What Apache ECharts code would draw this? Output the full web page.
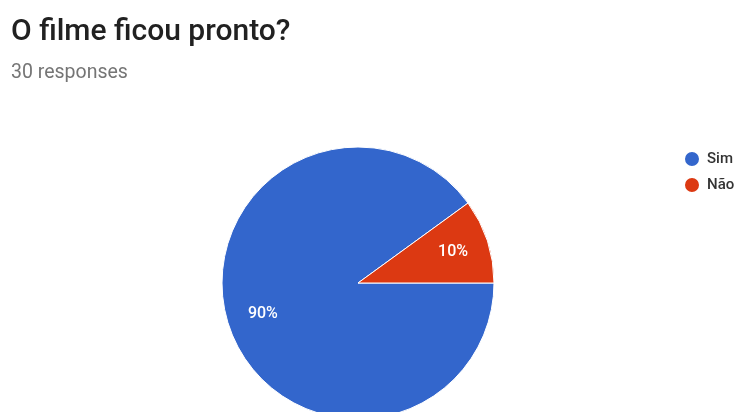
<!DOCTYPE html>
<html><head><meta charset="utf-8">
<script src="https://cdn.jsdelivr.net/npm/echarts@6/dist/echarts.min.js"></script>
<style>html,body{margin:0;padding:0;background:#fff}#c{width:736px;height:412px}</style>
</head><body><div id="c"></div>
<script>
const titleText = 'O filme ficou pronto?';
const subtitleText = '30 responses';
const categories = ['Sim', 'Não'];
const values = [27, 3];
const colors = ['#3366cc', '#dc3912'];

const data = categories.map((n, i) => ({ name: n, value: values[i], itemStyle: { color: colors[i] } }));
const chart = echarts.init(document.getElementById('c'));
chart.setOption({
  animation: false,
  title: {
    text: titleText, subtext: subtitleText, left: 6, top: 12, itemGap: 16,
    textStyle: { fontFamily: 'Roboto', fontSize: 30, fontWeight: 500, color: '#212121' },
    subtextStyle: { fontFamily: 'Roboto', fontSize: 19.5, color: '#757575' }
  },
  legend: {
    orient: 'vertical', left: 678, top: 145, icon: 'circle', itemWidth: 16, itemHeight: 16, itemGap: 8,
    data: categories,
    textStyle: { fontFamily: 'Roboto', fontSize: 15, fontWeight: 500, color: '#333', padding: [0, 0, 0, 2] }
  },
  series: [{
    type: 'pie', center: [358, 283], radius: [0, 136], startAngle: 0, clockwise: true,
    data: data, label: { show: false }, labelLine: { show: false },
    itemStyle: { borderColor: '#fff', borderWidth: 1 }, silent: true
  }, {
    type: 'pie', center: [358, 283], radius: [58, 136], startAngle: 0, clockwise: true,
    data: data.map(d => ({ name: d.name, value: d.value })),
    itemStyle: { color: 'rgba(0,0,0,0)' }, silent: true, legendHoverLink: false,
    label: { show: true, position: 'inside', formatter: '{d}%', color: '#fff', fontFamily: 'Roboto', fontSize: 16, fontWeight: 500 },
    labelLine: { show: false }
  }]
});
</script></body></html>
